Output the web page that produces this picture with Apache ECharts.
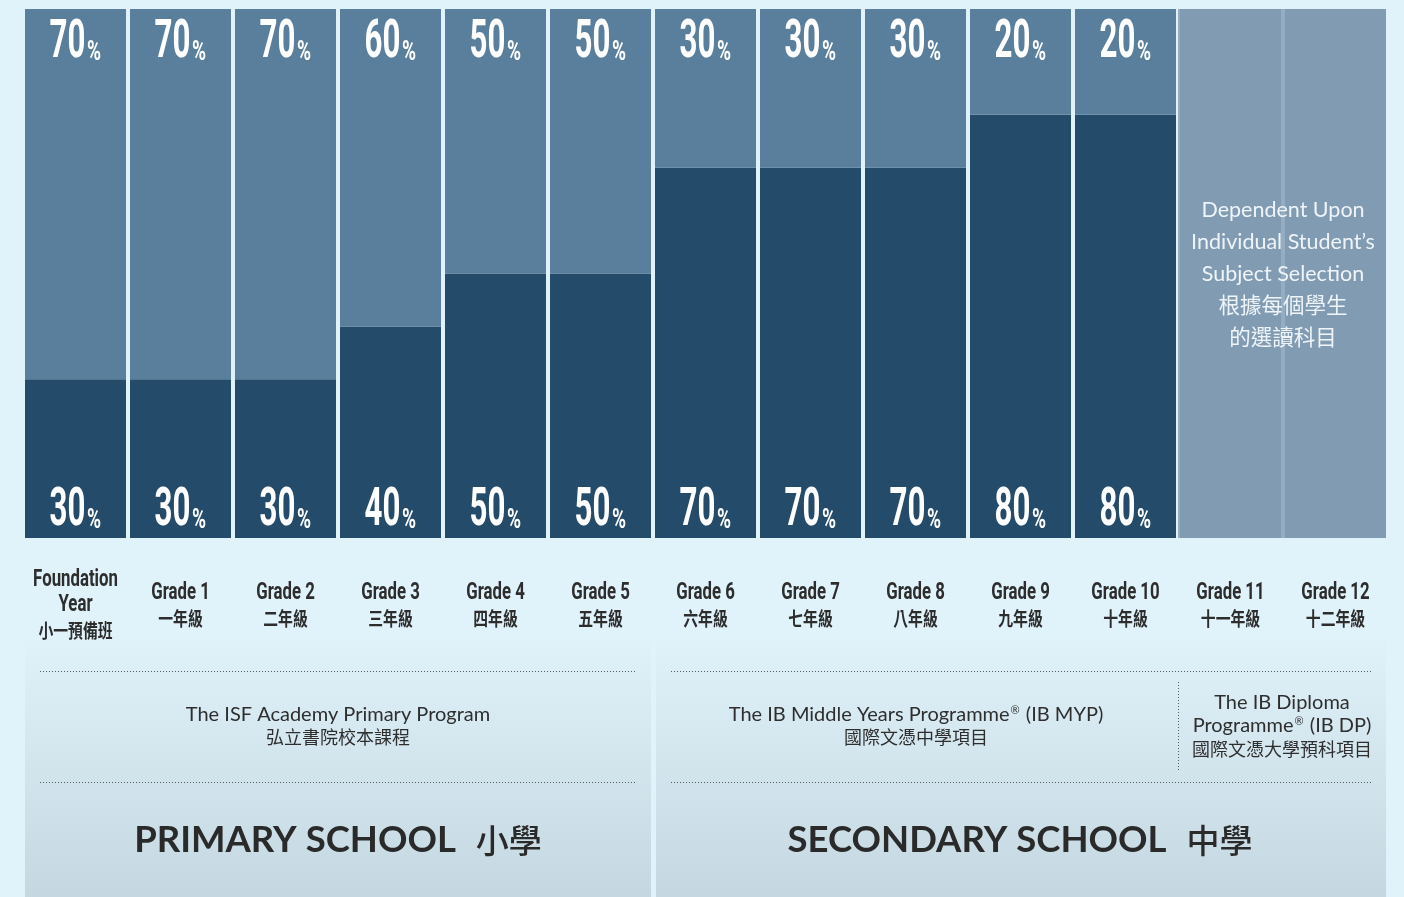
<!DOCTYPE html>
<html>
<head>
<meta charset="utf-8">
<script src="https://cdn.jsdelivr.net/npm/echarts@6/dist/echarts.min.js"></script>
<style>
  html, body { margin: 0; padding: 0; background: #e0f2fa; }
  #chart { width: 1404px; height: 897px; }
</style>
</head>
<body>
<div id="chart"></div>
<script>
// categories (grades)
var categories = ['Foundation Year', 'Grade 1', 'Grade 2', 'Grade 3', 'Grade 4', 'Grade 5',
  'Grade 6', 'Grade 7', 'Grade 8', 'Grade 9', 'Grade 10', 'Grade 11', 'Grade 12'];
var labelEn = [['Foundation', 'Year'], ['Grade 1'], ['Grade 2'], ['Grade 3'], ['Grade 4'], ['Grade 5'],
  ['Grade 6'], ['Grade 7'], ['Grade 8'], ['Grade 9'], ['Grade 10'], ['Grade 11'], ['Grade 12']];
var labelZh = ['小一預備班', '一年級', '二年級', '三年級', '四年級', '五年級',
  '六年級', '七年級', '八年級', '九年級', '十年級', '十一年級', '十二年級'];

// share of time (%) - bottom (dark) and top (light) parts of each bar
var lowerShare = [30, 30, 30, 40, 50, 50, 70, 70, 70, 80, 80, null, null];
var upperShare = [70, 70, 70, 60, 50, 50, 30, 30, 30, 20, 20, null, null];
// grades 11-12: depends on subject selection
var electiveShare = [null, null, null, null, null, null, null, null, null, null, null, 100, 100];

var cnFont = '"Noto Sans CJK TC", "Noto Sans CJK SC", sans-serif';
var numFont = 'Roboto, "Liberation Sans", sans-serif';

function txt(x, y, s, o) {
  return {
    type: 'text', x: x, y: y, scaleX: o.scaleX || 1, silent: true,
    style: {
      text: s, fill: o.fill, fontSize: o.size, fontWeight: o.weight || 'bold',
      fontFamily: o.family || numFont,
      align: o.align || 'center', textAlign: o.align || 'center',
      verticalAlign: 'middle', textVerticalAlign: 'middle'
    }
  };
}

function renderLabels(params, api) {
  var i = params.dataIndex;
  var top = api.coord([i, 100]);
  var bot = api.coord([i, 0]);
  var cx = bot[0];
  var kids = [];
  if (upperShare[i] != null) {
    kids.push(txt(cx + 10, top[1] + 35, String(upperShare[i]), { fill: '#ffffff', size: 53, scaleX: 0.59, align: 'right' }));
    kids.push(txt(cx + 11.5, top[1] + 44, '%', { fill: '#ffffff', size: 28, scaleX: 0.68, align: 'left' }));
  }
  if (lowerShare[i] != null) {
    kids.push(txt(cx + 10, bot[1] - 26, String(lowerShare[i]), { fill: '#ffffff', size: 53, scaleX: 0.59, align: 'right' }));
    kids.push(txt(cx + 11.5, bot[1] - 17, '%', { fill: '#ffffff', size: 28, scaleX: 0.68, align: 'left' }));
  }
  var en = labelEn[i];
  var y0 = en.length > 1 ? 42 : 55;
  for (var k = 0; k < en.length; k++) {
    kids.push(txt(cx, bot[1] + y0 + k * 25, en[k], { fill: '#2d2d2d', size: 23, scaleX: 0.73 }));
  }
  kids.push(txt(cx, bot[1] + y0 + en.length * 25 + 1, labelZh[i], { fill: '#2d2d2d', size: 19, scaleX: 0.78, family: cnFont }));
  return { type: 'group', children: kids };
}

function panelFill() {
  return new echarts.graphic.LinearGradient(0, 0, 0, 1, [
    { offset: 0, color: '#dff1f9' },
    { offset: 1, color: '#c5d8e1' }
  ]);
}

function dotted(x1, y1, x2, y2) {
  return {
    type: 'line', silent: true, z: 1,
    shape: { x1: x1, y1: y1, x2: x2, y2: y2 },
    style: { stroke: '#5a5a5a', lineWidth: 1, lineDash: [1, 2] }
  };
}

function plain(x, y, s, size, fill) {
  return {
    type: 'text', x: x, y: y, silent: true, z: 2,
    style: {
      text: s, fill: fill || '#2e2e2e', fontSize: size, fontFamily: 'Lato, ' + cnFont,
      align: 'center', textAlign: 'center', verticalAlign: 'middle', textVerticalAlign: 'middle'
    }
  };
}

function withReg(x, y, a, b) {
  return {
    type: 'text', x: x, y: y, silent: true, z: 2,
    style: {
      text: '{t|' + a + '}{r|®}{t|' + b + '}',
      align: 'center', textAlign: 'center', verticalAlign: 'middle', textVerticalAlign: 'middle',
      rich: {
        t: { fontSize: 20, fontFamily: 'Lato', fill: '#2e2e2e' },
        r: { fontSize: 11, fontFamily: 'Lato', fill: '#2e2e2e', padding: [0, 1, 9, 1] }
      }
    }
  };
}

function heading(x, y, en, zh) {
  return {
    type: 'text', x: x, y: y, silent: true, z: 2,
    style: {
      text: '{en|' + en + '}{zh|' + zh + '}',
      align: 'center', textAlign: 'center', verticalAlign: 'middle', textVerticalAlign: 'middle',
      rich: {
        en: { fontSize: 36.5, fontWeight: 'bold', fontFamily: 'Lato', fill: '#2a2a2a' },
        zh: { fontSize: 33, fontWeight: 500, fontFamily: cnFont, fill: '#2a2a2a', padding: [0, 0, 0, 20] }
      }
    }
  };
}

var chart = echarts.init(document.getElementById('chart'));
chart.setOption({
  backgroundColor: '#e0f2fa',
  animation: false,
  grid: { left: 23, right: 16, top: 9, bottom: 359 },
  xAxis: {
    type: 'category', data: categories,
    axisLine: { show: false }, axisTick: { show: false }, axisLabel: { show: false }
  },
  yAxis: { type: 'value', min: 0, max: 100, show: false, splitLine: { show: false } },
  graphic: [
    { type: 'rect', silent: true, z: 0, shape: { x: 25, y: 640, width: 626, height: 257 }, style: { fill: panelFill() } },
    { type: 'rect', silent: true, z: 0, shape: { x: 656, y: 640, width: 730, height: 257 }, style: { fill: panelFill() } },
    dotted(40, 671.5, 636, 671.5),
    dotted(40, 782.5, 636, 782.5),
    dotted(671, 671.5, 1371, 671.5),
    dotted(671, 782.5, 1371, 782.5),
    dotted(1178.5, 682, 1178.5, 772),
    plain(338, 715, 'The ISF Academy Primary Program', 20),
    plain(338, 738, '弘立書院校本課程', 18),
    withReg(916, 715, 'The IB Middle Years Programme', ' (IB MYP)'),
    plain(916, 738, '國際文憑中學項目', 18),
    plain(1282, 703, 'The IB Diploma', 20),
    withReg(1282, 726, 'Programme', ' (IB DP)'),
    plain(1282, 750, '國際文憑大學預科項目', 18),
    heading(338, 840, 'PRIMARY SCHOOL', '小學'),
    heading(1020, 840, 'SECONDARY SCHOOL', '中學'),
    {
      type: 'text', x: 1283, y: 274, silent: true, z: 100,
      style: {
        text: 'Dependent Upon\nIndividual Student’s\nSubject Selection\n根據每個學生\n的選讀科目',
        fill: '#eef4f8', fontSize: 21.5, fontFamily: 'Lato, ' + cnFont, lineHeight: 32,
        align: 'center', textAlign: 'center', verticalAlign: 'middle', textVerticalAlign: 'middle'
      }
    }
  ],
  series: [
    {
      name: 'lower', type: 'bar', stack: 'share', barWidth: 101,
      data: lowerShare, itemStyle: { color: '#244b6a' }
    },
    {
      name: 'upper', type: 'bar', stack: 'share', barWidth: 101,
      data: upperShare, itemStyle: { color: '#5a7f9c' }
    },
    {
      name: 'elective', type: 'bar', stack: 'share', barWidth: 101,
      data: electiveShare, itemStyle: { color: '#809bb2' },
      markArea: {
        silent: true,
        itemStyle: { color: '#95adc2' },
        data: [[{ xAxis: 'Grade 11', yAxis: 0 }, { xAxis: 'Grade 12', yAxis: 100 }]]
      }
    },
    {
      name: 'labels', type: 'custom', z: 10, silent: true,
      encode: { x: 0, y: 1 },
      data: categories.map(function (c, i) { return [i, 0]; }),
      renderItem: renderLabels
    }
  ]
});
</script>
</body>
</html>
